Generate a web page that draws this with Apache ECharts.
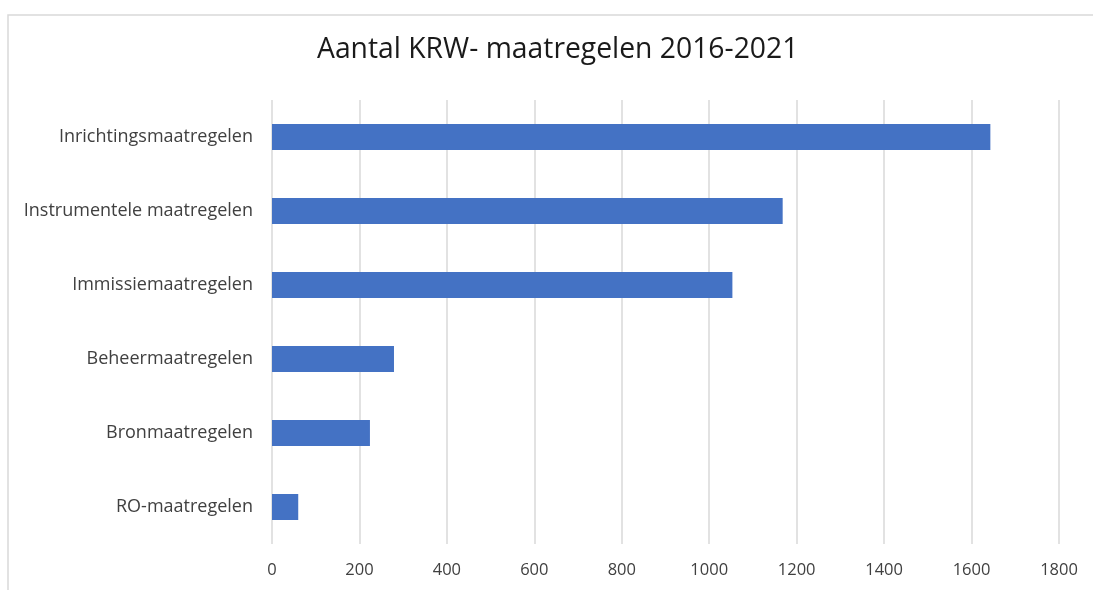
<!DOCTYPE html>
<html>
<head>
<meta charset="utf-8">
<script src="https://cdn.jsdelivr.net/npm/echarts@6/dist/echarts.min.js"></script>
<style>html,body{margin:0;padding:0;background:#fff;}#c{width:1093px;height:590px;}</style>
</head>
<body>
<div id="c"></div>
<script>
var categories = ["Inrichtingsmaatregelen", "Instrumentele maatregelen", "Immissiemaatregelen", "Beheermaatregelen", "Bronmaatregelen", "RO-maatregelen"];
var values = [1643, 1168, 1053, 279, 224, 60];
var titleText = "Aantal KRW- maatregelen 2016-2021";

var chart = echarts.init(document.getElementById('c'), null, {renderer: 'canvas'});
chart.setOption({
  animation: false,
  backgroundColor: '#ffffff',
  graphic: [{
    type: 'rect', silent: true, z: -10,
    shape: {x: 8, y: 15, width: 1200, height: 700},
    style: {fill: 'none', stroke: '#d9d9d9', lineWidth: 1.5}
  }],
  title: {
    text: titleText, left: 312, top: 31,
    textStyle: {fontFamily: 'Open Sans', fontSize: 28.3, fontWeight: 'normal', color: '#1a1a1a'}
  },
  grid: {left: 272, right: 34, top: 100, bottom: 46, containLabel: false},
  xAxis: {
    type: 'value', min: 0, max: 1800, interval: 200,
    axisLine: {show: false}, axisTick: {show: false},
    splitLine: {show: true, lineStyle: {color: '#d9d9d9', width: 1.5}},
    axisLabel: {color: '#404040', fontFamily: 'Open Sans', fontSize: 16.5, margin: 18,
      formatter: function (v) { return String(v); }}
  },
  yAxis: {
    type: 'category', data: categories, inverse: true,
    axisLine: {show: false}, axisTick: {show: false},
    axisLabel: {color: '#404040', fontFamily: 'Open Sans', fontSize: 18, margin: 19}
  },
  series: [{
    type: 'bar', data: values, barWidth: 26,
    itemStyle: {color: '#4472c4'}
  }]
});
</script>
</body>
</html>
